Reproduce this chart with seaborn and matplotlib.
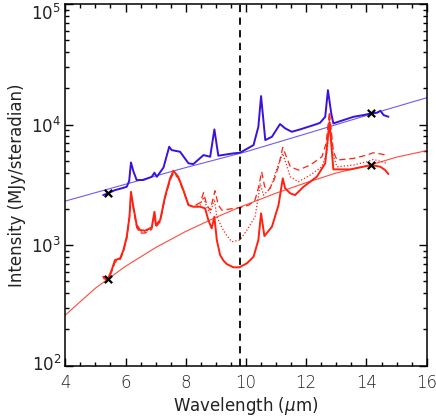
import numpy as np
import pandas as pd
import matplotlib
matplotlib.use("Agg")
import matplotlib.pyplot as plt
import matplotlib.transforms as mtransforms
import seaborn as sns
from matplotlib.ticker import MultipleLocator, LogLocator, NullFormatter

# ---------------- data ----------------
blue_wl = [5.26, 5.41, 5.65, 5.87, 6.04, 6.12, 6.18, 6.26, 6.37, 6.59, 6.87, 6.96, 7.04,
           7.26, 7.45, 7.53, 7.81, 8.09, 8.25, 8.59, 8.81, 8.95, 9.08, 9.58, 9.80, 10.25,
           10.41, 10.50, 10.64, 10.86, 11.13, 11.30, 11.52, 11.80, 12.07, 12.35, 12.46,
           12.63, 12.72, 12.83, 12.90, 13.24, 13.57, 13.90, 14.16, 14.35, 14.46, 14.57, 14.73]
blue_int = [2600, 2690, 2860, 2960, 3050, 3400, 4850, 4100, 3465, 3470, 3690, 3985, 3690,
            4400, 6545, 6145, 5950, 4770, 4705, 5585, 5410, 9125, 5520, 5770, 5840, 6760,
            9590, 17230, 7440, 7920, 10100, 9300, 8715, 9125, 9590, 10100, 10350,
            11605, 19300, 12390, 10230, 10900, 11605, 11990, 12390, 12530, 13020, 11990, 11605]

red_wl = [5.26, 5.41, 5.54, 5.65, 5.82, 5.93, 6.04, 6.13, 6.18, 6.26, 6.37, 6.48, 6.65,
          6.87, 6.96, 7.01, 7.15, 7.31, 7.48, 7.59, 7.75, 7.92, 8.09, 8.25, 8.48, 8.64,
          8.75, 8.86, 8.95, 9.03, 9.14, 9.25, 9.36, 9.58, 9.78, 10.03, 10.25, 10.41, 10.50,
          10.61, 10.86, 11.08, 11.22, 11.30, 11.47, 11.63, 11.91, 12.35, 12.63, 12.77,
          12.90, 13.46, 14.16, 14.46, 14.62, 14.73]
red_solid = [547, 520, 622, 752, 777, 911, 1174, 1720, 2770, 2082, 1468, 1334, 1317,
             1405, 1892, 1468, 1615, 2520, 3580, 4140, 3690, 2863, 2150, 2082, 2082, 2019,
             1615, 1378, 1720, 1103, 828, 745, 697, 655, 655, 707, 801, 1103, 1835,
             1190, 1421, 2150, 3580, 2960, 2688, 2603, 3050, 3690, 4770, 10490,
             4250, 4250, 4615, 4470, 4195, 3885]

dash_wl = [5.26, 5.41, 5.54, 5.65, 5.82, 5.93, 6.04, 6.13, 6.18, 6.26, 6.37, 6.48, 6.65,
           6.87, 6.96, 7.01, 7.15, 7.31, 7.48, 7.59, 7.75, 7.92, 8.09, 8.25, 8.48, 8.59,
           8.70, 8.81, 8.90, 8.97, 9.08, 9.20, 9.50, 9.80, 10.10, 10.30, 10.42, 10.52,
           10.62, 10.75, 10.90, 11.08, 11.22, 11.47, 11.74, 12.13, 12.52, 12.66, 12.77,
           12.90, 13.02, 13.57, 14.01, 14.23, 14.68]
red_dash = [530, 510, 600, 720, 760, 880, 1140, 1680, 2700, 2000, 1400, 1260, 1260,
            1350, 1800, 1420, 1560, 2450, 3450, 3950, 3600, 2800, 2150, 2100, 2250, 2720,
            2150, 1954, 2400, 2825, 2150, 1950, 2000, 2050, 2150, 2366, 3050, 4060,
            3050, 2860, 3300, 4500, 6470, 4470, 4195, 4615, 5410, 6985, 12800,
            6000, 5077, 5245, 5585, 5840, 5585]

dot_wl = [5.26, 5.41, 5.54, 5.65, 5.82, 5.93, 6.04, 6.13, 6.18, 6.26, 6.37, 6.48, 6.65,
          6.87, 6.96, 7.01, 7.15, 7.31, 7.48, 7.59, 7.75, 7.92, 8.09, 8.25, 8.48, 8.59,
          8.70, 8.81, 8.95, 9.03, 9.20, 9.36, 9.53, 9.80, 10.03, 10.30, 10.41, 10.47,
          10.58, 10.80, 11.13, 11.22, 11.47, 11.74, 12.13, 12.52, 12.70, 12.77, 12.90,
          13.02, 13.57, 14.01, 14.23, 14.68]
red_dot = [540, 515, 610, 735, 770, 895, 1155, 1700, 2730, 2040, 1430, 1290, 1285,
           1375, 1840, 1440, 1585, 2480, 3500, 4040, 3640, 2830, 2150, 2082, 2150, 2500,
           2050, 1850, 2400, 1720, 1400, 1200, 1067, 1103, 1334, 1720, 2520, 3255,
           2600, 2950, 5077, 5770, 3690, 3355, 3815, 4470, 6000, 11600, 5500,
           4470, 4615, 4915, 5145, 4770]

blue_cont_wl = [4.0, 6.0, 8.0, 10.0, 12.0, 14.0, 16.0]
blue_cont = [2320, 3200, 4400, 5950, 8400, 11900, 16700]

red_cont_wl = [4.0, 5.0, 5.41, 6.0, 7.0, 8.0, 9.0, 9.8, 11.0, 12.0, 13.0, 14.16, 15.0, 16.0]
red_cont = [263, 440, 522, 668, 955, 1300, 1700, 2070, 2700, 3300, 3970, 4650, 5370, 6080]

anchor_wl = [5.41, 14.16]
blue_anchor = [2690, 12390]
red_anchor = [522, 4615]

vline_wl = 9.8
xticks = [4, 6, 8, 10, 12, 14, 16]
yticks = [1e2, 1e3, 1e4, 1e5]

# ---------------- plotting ----------------
sns.set_style("ticks")
plt.rcParams['font.family'] = ['DejaVu Sans']
plt.rcParams['mathtext.fontset'] = 'dejavusans'

fig = plt.figure(figsize=(4.36, 4.18), dpi=100)
ax = fig.add_axes([0.1498, 0.1251, 0.8289, 0.8653])

BLUE = "#3a12dc"
BLUE_L = "#6e5cf0"
RED = "#ff2212"
RED_L = "#ff4a3c"

def line(x, y, **kw):
    df = pd.DataFrame({"wl": x, "I": y})
    sns.lineplot(data=df, x="wl", y="I", ax=ax, estimator=None, sort=False, **kw)

line(blue_cont_wl, blue_cont, color=BLUE_L, lw=0.8)
line(red_cont_wl, red_cont, color=RED_L, lw=0.8)
line(dash_wl, red_dash, color=RED, lw=0.9, linestyle=(0, (5, 3)))
line(dot_wl, red_dot, color=RED, lw=0.9, linestyle=(0, (1, 1.6)))
line(red_wl, red_solid, color=RED, lw=1.4)
line(blue_wl, blue_int, color=BLUE, lw=1.4)

ax.axvline(vline_wl, color="black", lw=1.3, linestyle=(0, (4, 3)))

adf = pd.DataFrame({"wl": anchor_wl * 2, "I": blue_anchor + red_anchor})
sns.scatterplot(data=adf, x="wl", y="I", ax=ax, marker="x", color="black",
                s=28, linewidth=1.6, zorder=5)

ax.set_yscale("log")
ax.set_xlim(4, 16)
ax.set_ylim(100, 100000)
ax.set_xticks(xticks)
ax.set_yticks(yticks)
ax.set_yticklabels(["$10^{%d}$" % int(np.log10(v)) for v in yticks])
ax.xaxis.set_minor_locator(MultipleLocator(0.5))
ax.yaxis.set_minor_locator(LogLocator(base=10, subs=np.arange(2, 10), numticks=20))
ax.yaxis.set_minor_formatter(NullFormatter())

ax.tick_params(which="both", direction="in", top=True, right=True, width=1.0,
               colors="black", labelcolor="#222222", labelsize=12)
ax.tick_params(which="major", length=6)
ax.tick_params(which="minor", length=3)
ax.tick_params(axis="x", which="major", pad=6)
ax.tick_params(axis="y", which="major", pad=3)
for sp in ax.spines.values():
    sp.set_linewidth(1.1)
    sp.set_color("black")

# nudge the extreme y labels inside the figure, as in the reference
ylabels = ax.get_yticklabels()
down = mtransforms.ScaledTranslation(0, -8 / 100, fig.dpi_scale_trans)
up = mtransforms.ScaledTranslation(0, 3 / 100, fig.dpi_scale_trans)
ylabels[-1].set_transform(ylabels[-1].get_transform() + down)
ylabels[0].set_transform(ylabels[0].get_transform() + up)

ax.set_xlabel("Wavelength ($\\mu$m)", fontsize=12, labelpad=2, color="#222222")
ax.set_ylabel("Intensity (MJy/steradian)", fontsize=12, labelpad=4, color="#222222")
for t in ax.get_xticklabels() + ax.get_yticklabels():
    t.set_fontweight("light")

fig.savefig("out.png", dpi=100)
